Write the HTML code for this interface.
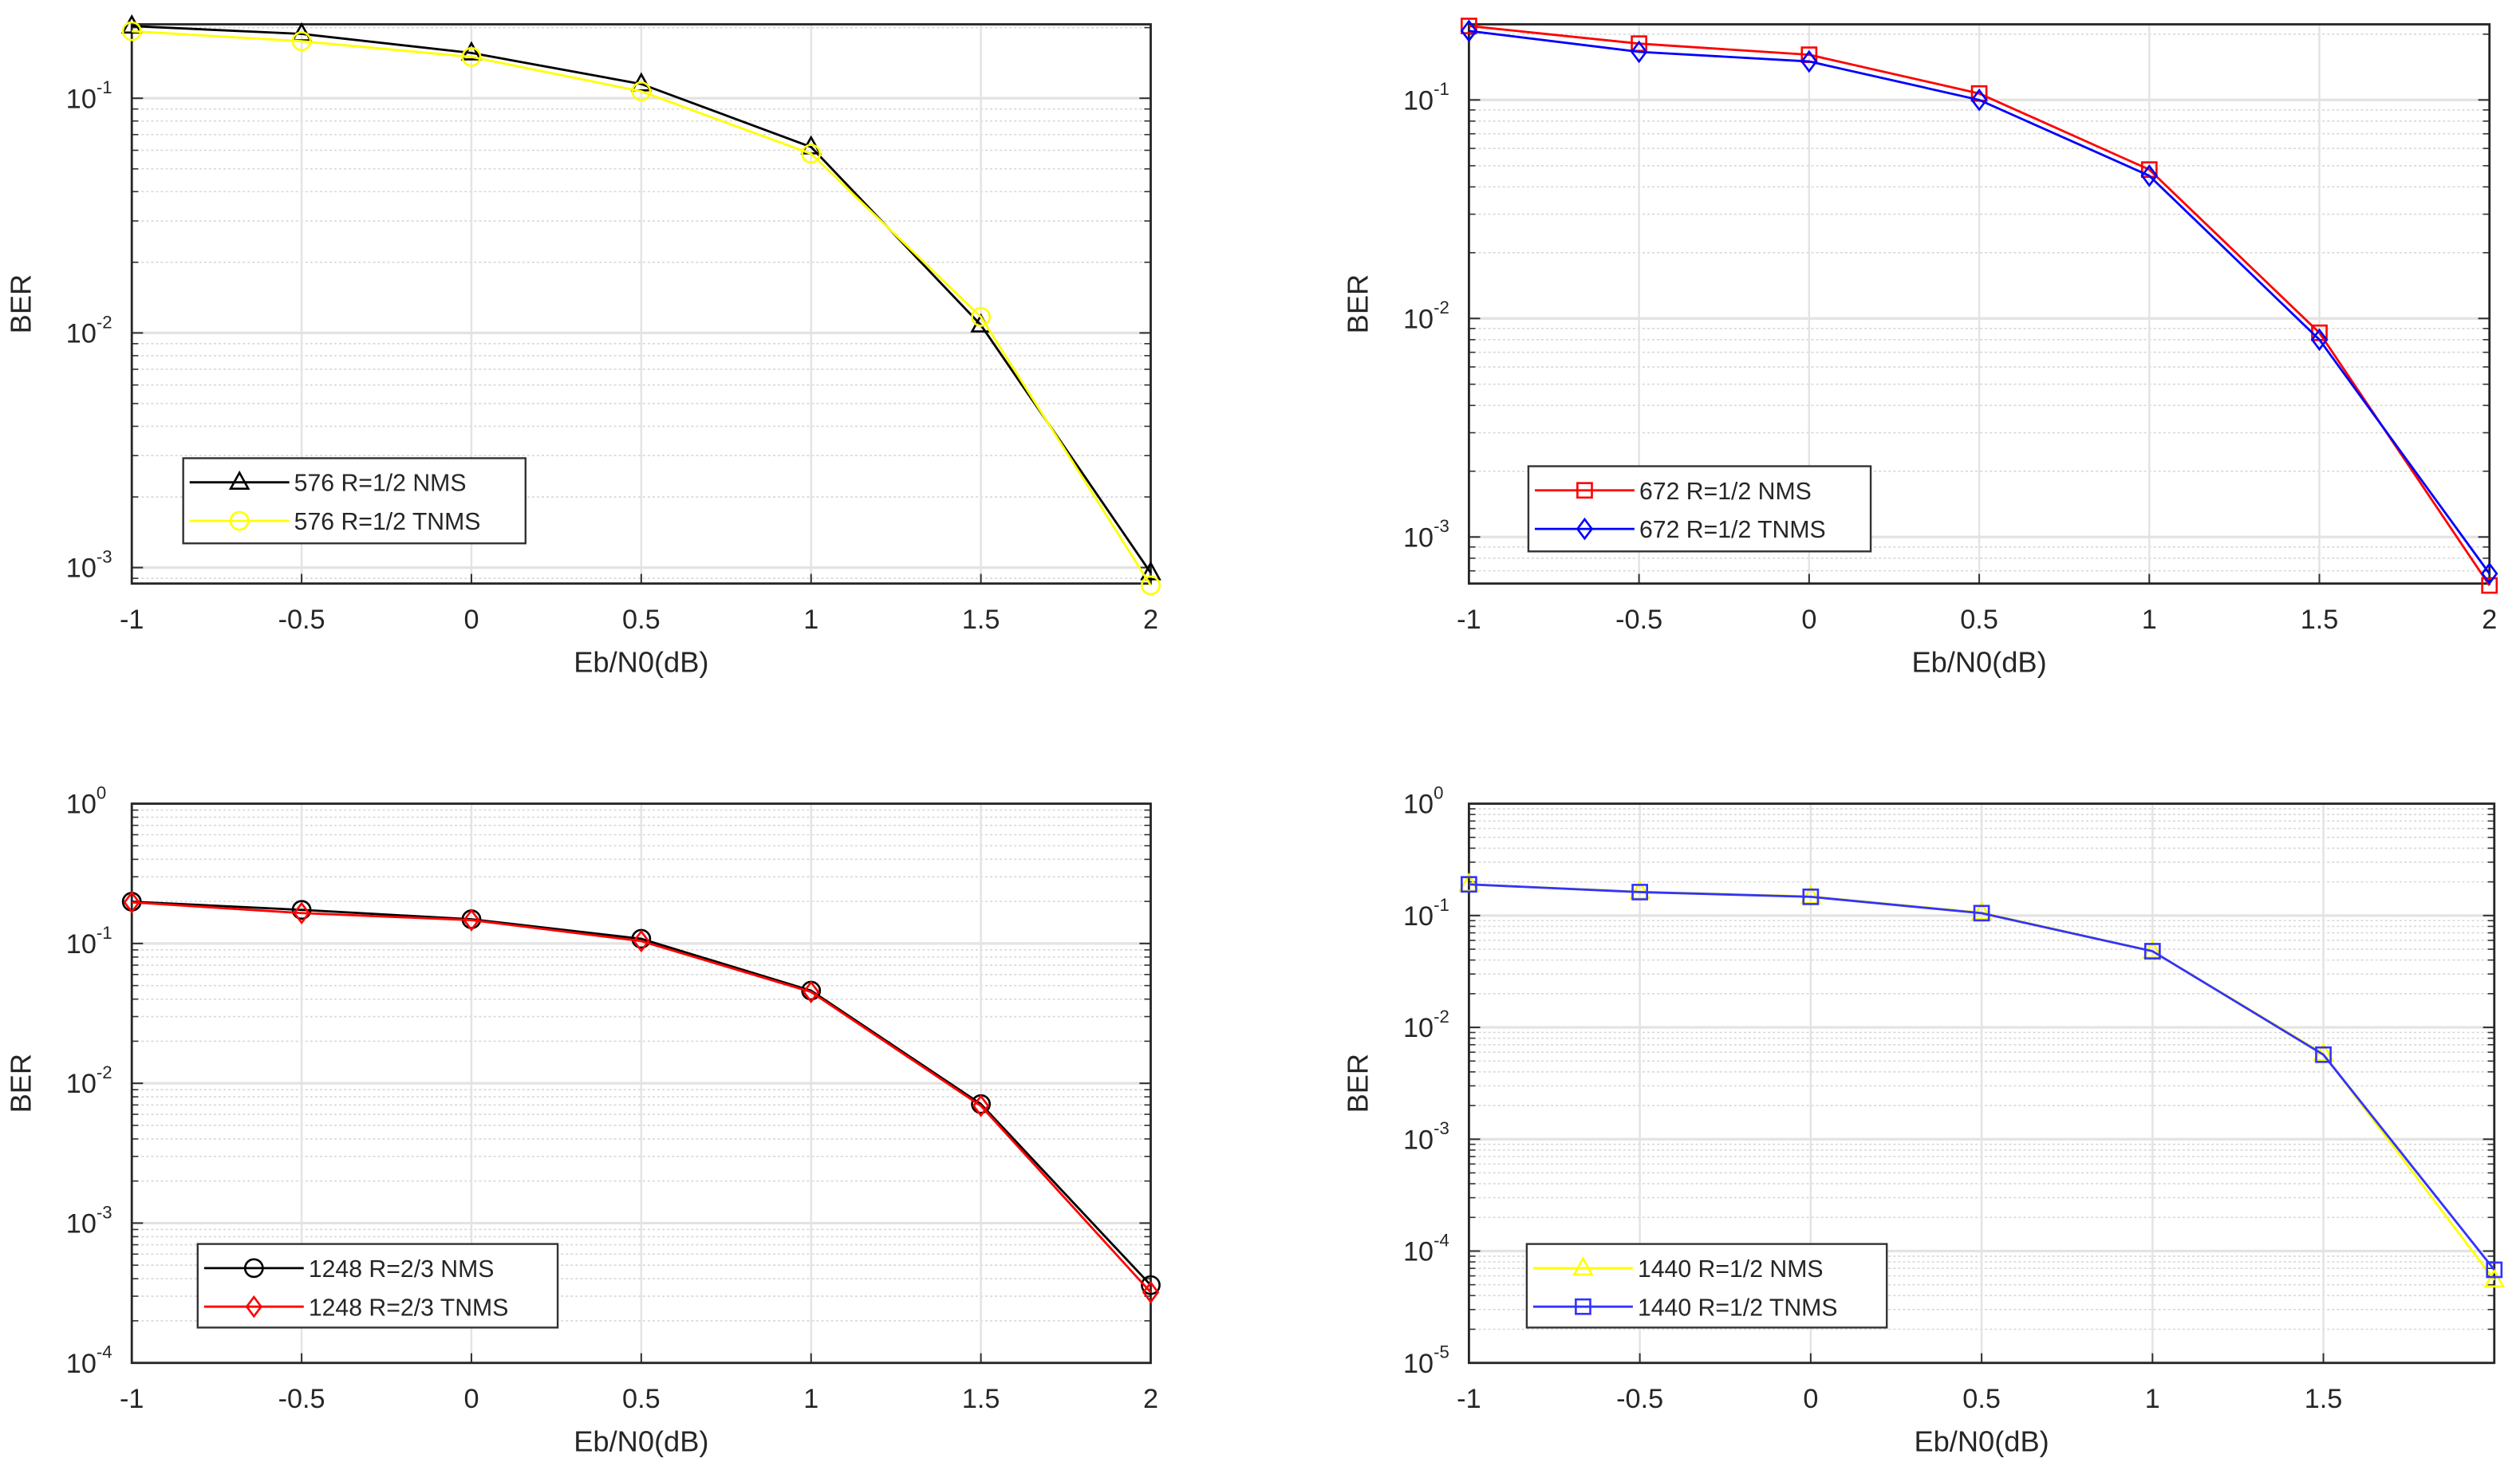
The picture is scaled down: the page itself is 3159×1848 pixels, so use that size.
<!DOCTYPE html>
<html><head><meta charset="utf-8"><style>
html,body{margin:0;padding:0;background:#fff;}
svg{display:block;}
text{font-family:"Liberation Sans",Arial,sans-serif;fill:#262626;}
</style></head><body>
<svg id="fig" width="3159" height="1848" viewBox="0 0 1568 917" xmlns="http://www.w3.org/2000/svg"></svg>
<script>
const xValues = [-1, -0.5, 0, 0.5, 1, 1.5, 2];
const xTickLabels = ["-1", "-0.5", "0", "0.5", "1", "1.5", "2"];
const p1Nms  = [0.203, 0.188, 0.156, 0.115, 0.062, 0.0108, 0.00095];
const p1Tnms = [0.193, 0.175, 0.150, 0.107, 0.058, 0.0117, 0.00084];
const p2Nms  = [0.218, 0.181, 0.161, 0.107, 0.048, 0.0086, 0.00060];
const p2Tnms = [0.207, 0.166, 0.150, 0.100, 0.045, 0.0080, 0.00068];
const p3Nms  = [0.199, 0.174, 0.149, 0.108, 0.046, 0.0071, 0.00036];
const p3Tnms = [0.197, 0.165, 0.147, 0.104, 0.045, 0.0069, 0.00032];
const p4Nms  = [0.190, 0.163, 0.148, 0.106, 0.048, 0.0058, 0.000055];
const p4Tnms = [0.190, 0.162, 0.147, 0.105, 0.048, 0.0057, 0.000068];
const p1Labels = ["576 R=1/2 NMS", "576 R=1/2 TNMS"];
const p2Labels = ["672 R=1/2 NMS", "672 R=1/2 TNMS"];
const p3Labels = ["1248 R=2/3 NMS", "1248 R=2/3 TNMS"];
const p4Labels = ["1440 R=1/2 NMS", "1440 R=1/2 TNMS"];

const NS = "http://www.w3.org/2000/svg";
const svg = document.getElementById('fig');
function mk(tag, attrs, parent) {
  const e = document.createElementNS(NS, tag);
  for (const k in attrs) e.setAttribute(k, attrs[k]);
  (parent || svg).appendChild(e);
  return e;
}
function marker(g, type, x, y, color) {
  let m;
  if (type === 'tri') m = mk('polygon', {points: `${x},${y-6} ${x-5.5},${y+4} ${x+5.5},${y+4}`, fill: 'none', stroke: color, 'stroke-width': 1.3}, g);
  else if (type === 'circ') m = mk('circle', {cx: x, cy: y, r: 5.5, fill: 'none', stroke: color, 'stroke-width': 1.3}, g);
  else if (type === 'sq') m = mk('rect', {x: x-4.5, y: y-4.5, width: 9, height: 9, fill: 'none', stroke: color, 'stroke-width': 1.3}, g);
  else m = mk('polygon', {points: `${x},${y-6} ${x+4.5},${y} ${x},${y+6} ${x-4.5},${y}`, fill: 'none', stroke: color, 'stroke-width': 1.3}, g);
  return m;
}
function panel(cfg) {
  const g = mk('g', {});
  
  
  const {L, R, T, B, yMin, yMax, xMax} = cfg;
  const sx = v => L + (v - (-1)) / (xMax + 1) * (R - L);
  const sy = v => B - (Math.log10(v) - yMin) / (yMax - yMin) * (B - T);
  mk('rect', {x: L, y: T, width: R-L, height: B-T, fill: '#fff'}, g);
  // minor grid
  for (let d = Math.floor(yMin); d < Math.ceil(yMax); d++) {
    for (let k = 2; k <= 9; k++) {
      const lv = d + Math.log10(k);
      if (lv <= yMin || lv >= yMax) continue;
      const y = sy(Math.pow(10, lv));
      mk('line', {x1: L, x2: R, y1: y, y2: y, stroke: '#d8d8d8', 'stroke-width': 0.8, 'stroke-dasharray': '1.5,1.5'}, g);
      mk('line', {x1: L, x2: L+4, y1: y, y2: y, stroke: '#333', 'stroke-width': 0.8}, g);
      mk('line', {x1: R-4, x2: R, y1: y, y2: y, stroke: '#333', 'stroke-width': 0.8}, g);
    }
  }
  // major y grid and labels
  for (let d = Math.ceil(yMin - 1e-9); d <= Math.floor(yMax + 1e-9); d++) {
    const y = sy(Math.pow(10, d));
    const gl = mk('line', {x1: L, x2: R, y1: y, y2: y, stroke: '#e3e3e3', 'stroke-width': 1.6}, g);
    
    
    mk('line', {x1: L, x2: L+7, y1: y, y2: y, stroke: '#333', 'stroke-width': 1}, g);
    mk('line', {x1: R-7, x2: R, y1: y, y2: y, stroke: '#333', 'stroke-width': 1}, g);
    const t = mk('text', {x: L - 22, y: y + 6, 'font-size': 17, 'text-anchor': 'end'}, g);
    
    
    t.textContent = '10';
    const s = mk('tspan', {x: L - 4, y: y - 2, 'font-size': 11, 'text-anchor': 'end'}, g);
    s.textContent = String(d);
    const sup = mk('text', {x: L - 22, y: y - 3, 'font-size': 11, 'text-anchor': 'start'}, g);
    
    
    sup.textContent = String(d);
    s.remove();
  }
  // x grid and labels
  xValues.forEach((v, i) => {
    const x = sx(v);
    if (v > -1 && v < xMax) {
      const gl = mk('line', {x1: x, x2: x, y1: T, y2: B, stroke: '#e3e3e3', 'stroke-width': 1.2}, g);
      
      
    }
    if (cfg.hideLastTick && i === xValues.length - 1) return;
    mk('line', {x1: x, x2: x, y1: B, y2: B-6, stroke: '#333', 'stroke-width': 1}, g);
    const t = mk('text', {x: x, y: B + 28, 'font-size': 17, 'text-anchor': 'middle'}, g);
    
    
    t.textContent = xTickLabels[i];
  });
  // frame
  mk('rect', {x: L, y: T, width: R-L, height: B-T, fill: 'none', stroke: '#262626', 'stroke-width': 1.4}, g);
  // series
  cfg.series.forEach((s, si) => {
    const pts = xValues.map((v, i) => `${sx(v)},${sy(s.data[i])}`).join(' ');
    const pl = mk('polyline', {points: pts, fill: 'none', stroke: s.color, 'stroke-width': 1.4}, g);
    
    
    xValues.forEach((v, i) => {
      const m = marker(g, s.marker, sx(v), sy(s.data[i]), s.color);
      
      
    });
  });
  // labels
  const xl = mk('text', {x: (L+R)/2, y: B + 55, 'font-size': 18, 'text-anchor': 'middle'}, g);
  
  
  xl.textContent = 'Eb/N0(dB)';
  const yl = mk('text', {x: 0, y: 0, 'font-size': 18, 'text-anchor': 'middle', transform: `translate(${L-63},${(T+B)/2}) rotate(-90)`}, g);
  
  
  yl.textContent = 'BER';
  // legend
  const lg = mk('g', {}, g);
  
  
  const [lx, ly, lw, lh] = cfg.legend;
  mk('rect', {x: lx, y: ly, width: lw, height: lh, fill: '#fff', stroke: '#333', 'stroke-width': 1.2}, lg);
  cfg.series.forEach((s, si) => {
    const yy = ly + 15 + si * 24;
    const e = mk('g', {}, lg);
    
    
    mk('line', {x1: lx + 4, x2: lx + 66, y1: yy, y2: yy, stroke: s.color, 'stroke-width': 1.4}, e);
    marker(e, s.marker, lx + 35, yy, s.color);
    const t = mk('text', {x: lx + 69, y: yy + 5.5, 'font-size': 15}, e);
    t.textContent = s.label;
  });
}
panel({name: 'panel-576', L: 82, R: 716, T: 15, B: 363, yMin: -3.068, yMax: -0.685, xMax: 2,
  legend: [114, 285, 213, 53],
  series: [
    {name: 'nms-576', data: p1Nms, color: '#000', marker: 'tri', label: p1Labels[0]},
    {name: 'tnms-576', data: p1Tnms, color: '#ffff00', marker: 'circ', label: p1Labels[1]}]});
panel({name: 'panel-672', L: 914, R: 1549, T: 15, B: 363, yMin: -3.213, yMax: -0.654, xMax: 2,
  legend: [951, 290, 213, 53],
  series: [
    {name: 'nms-672', data: p2Nms, color: '#ff0000', marker: 'sq', label: p2Labels[0]},
    {name: 'tnms-672', data: p2Tnms, color: '#0000ff', marker: 'dia', label: p2Labels[1]}]});
panel({name: 'panel-1248', L: 82, R: 716, T: 500, B: 848, yMin: -4, yMax: 0, xMax: 2,
  legend: [123, 774, 224, 52],
  series: [
    {name: 'nms-1248', data: p3Nms, color: '#000', marker: 'circ', label: p3Labels[0]},
    {name: 'tnms-1248', data: p3Tnms, color: '#ff0000', marker: 'dia', label: p3Labels[1]}]});
panel({name: 'panel-1440', L: 914, R: 1552, T: 500, B: 848, yMin: -5, yMax: 0, xMax: 2, hideLastTick: true,
  legend: [950, 774, 224, 52],
  series: [
    {name: 'nms-1440', data: p4Nms, color: '#ffff00', marker: 'tri', label: p4Labels[0]},
    {name: 'tnms-1440', data: p4Tnms, color: '#3333ff', marker: 'sq', label: p4Labels[1]}]});
</script>
</body></html>
